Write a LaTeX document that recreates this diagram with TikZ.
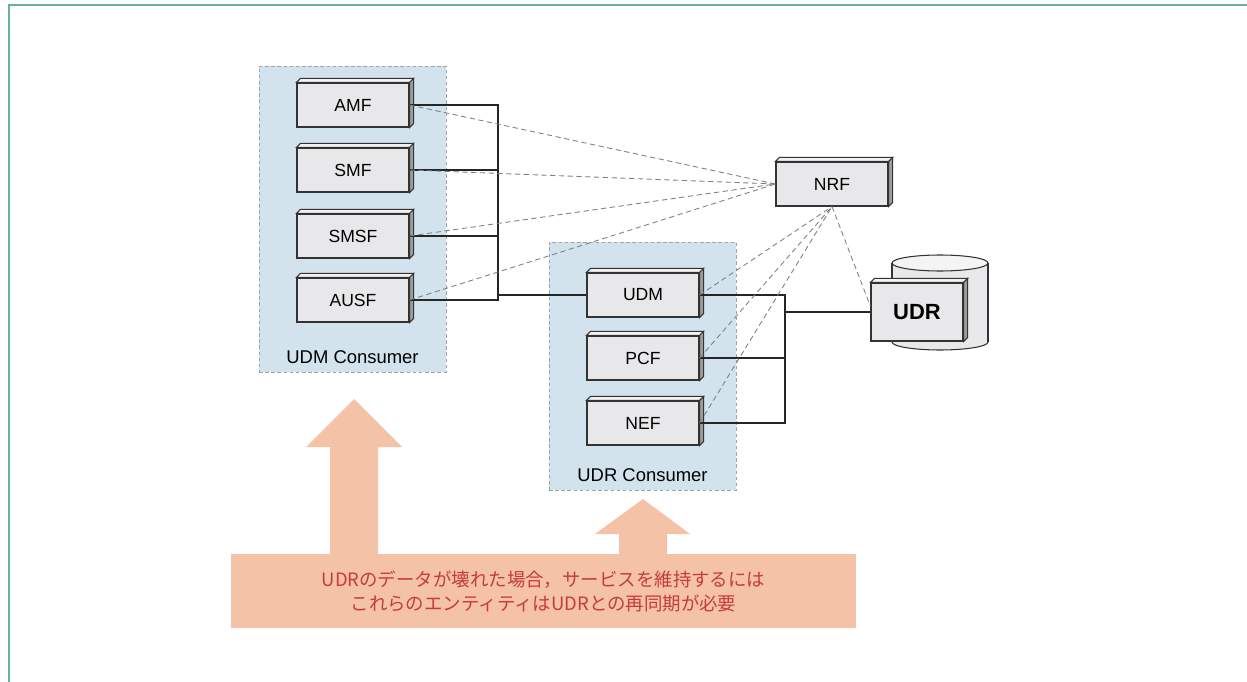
\documentclass[tikz,border=0pt]{standalone}
\usepackage{fontspec}
\setmainfont{Liberation Sans}
\newfontfamily\jpfont{Noto Sans CJK JP}
\usepackage{xcolor}
\usepackage{tikz}
\usetikzlibrary{calc}
\definecolor{framegreen}{HTML}{6AAE9F}
\definecolor{groupblue}{HTML}{D2E3EE}
\definecolor{groupedge}{HTML}{9AA4AC}
\definecolor{nfgray}{HTML}{E8E8EA}
\definecolor{facetop}{HTML}{F2F2F2}
\definecolor{faceside}{HTML}{9C9C9C}
\definecolor{cylbody}{HTML}{E9E9EB}
\definecolor{cyltop}{HTML}{F4F4F5}
\definecolor{alertorange}{HTML}{F4C2A7}
\definecolor{alertred}{HTML}{C63B3B}

\begin{document}
\begin{tikzpicture}[
    x=0.02cm, y=-0.02cm,
    nf/.style={rectangle, draw=black!80, fill=nfgray, line width=0.7pt,
               minimum width=2.24cm, minimum height=0.88cm,
               font=\fontsize{10}{12}\selectfont},
    group/.style={rectangle, draw=groupedge, fill=groupblue, line width=0.5pt,
                  dash pattern=on 2pt off 1.5pt, minimum width=3.74cm},
    grouplabel/.style={font=\fontsize{10.5}{12}\selectfont},
    facetop/.style={draw=black!80, fill=facetop, line width=0.6pt},
    faceside/.style={draw=black!80, fill=faceside, line width=0.6pt},
    link/.style={draw=black!85, line width=0.9pt},
    reg/.style={draw=gray, line width=0.5pt, dash pattern=on 3pt off 2pt},
    alert/.style={fill=alertorange}
]
\useasboundingbox (0,0) rectangle (1247,682);
\draw[framegreen, line width=1.1pt] (1247,5) -- (9,5) -- (9,682);

% Consumer groups
\node[group, minimum height=6.12cm] at (352.5,219) (udmgroup) {};
\node[grouplabel] at (352.5,357) (udmgrouplabel) {UDM Consumer};
\node[group, minimum height=4.96cm] at (642.5,366) (udrgroup) {};
\node[grouplabel] at (642.5,475) (udrgrouplabel) {UDR Consumer};

% UDR storage
\draw[draw=black!80, fill=cylbody, line width=0.6pt] (940,342) ellipse[x radius=48, y radius=8];
\fill[cylbody] (892,263) rectangle (988,342);
\draw[draw=black!80, line width=0.6pt] (892,263) -- (892,342) (988,263) -- (988,342);
\draw[draw=black!80, fill=cyltop, line width=0.6pt] (940,263) ellipse[x radius=48, y radius=8];

% Network functions
\node[nf] at (353,105) (amf) {AMF};
\node[nf] at (353,170) (smf) {SMF};
\node[nf] at (353,236) (smsf) {SMSF};
\node[nf] at (353,300) (ausf) {AUSF};
\node[nf] at (643,295) (udm) {UDM};
\node[nf] at (643,358) (pcf) {PCF};
\node[nf] at (643,423) (nef) {NEF};
\node[nf] at (832,184) (nrf) {NRF};
\node[nf, minimum width=1.84cm, minimum height=1.16cm,
      font=\fontsize{12.5}{14}\selectfont\bfseries] at (917,312) (udr) {UDR};

\foreach \n in {amf,smf,smsf,ausf,udm,pcf,nef,nrf,udr} {
  \draw[facetop] (\n.north west) -- ++(4,-4) -- ($(\n.north east)+(4,-4)$) -- (\n.north east) -- cycle;
  \draw[faceside] (\n.north east) -- ++(4,-4) -- ($(\n.south east)+(4,-4)$) -- (\n.south east) -- cycle;
}

% Buses
\coordinate (lbus) at (498,0);
\coordinate (rbus) at (785,0);
\draw[link] (amf.east) -- (amf.east -| lbus) -- (ausf.east -| lbus) -- (ausf.east);
\draw[link] (smf.east) -- (smf.east -| lbus);
\draw[link] (smsf.east) -- (smsf.east -| lbus);
\draw[link, line width=1.2pt] (udm.west -| lbus) -- (udm.west);
\draw[link] (udm.east) -- (udm.east -| rbus) -- (nef.east -| rbus) -- (nef.east);
\draw[link] (pcf.east) -- (pcf.east -| rbus);
\draw[link, line width=1.2pt] (udr.west -| rbus) -- (udr.west);

% Registration to NRF
\foreach \n in {amf,smf,smsf,ausf}
  \draw[reg] (\n.east) -- (nrf.west);
\foreach \n in {udm,pcf,nef}
  \draw[reg] (\n.east) -- (nrf.south);
\draw[reg] (nrf.south) -- ($(udr.north west)!0.4!(udr.south west)$);

% Resync note
\fill[alert] (354,399) -- (402,447) -- (378,447) -- (378,555) -- (330,555) -- (330,447) -- (306,447) -- cycle;
\fill[alert] (643,499) -- (690,534) -- (667,534) -- (667,555) -- (619,555) -- (619,534) -- (595,534) -- cycle;
\node[alert, minimum width=12.5cm, minimum height=1.5cm, align=center,
      text=alertred, font=\jpfont\fontsize{10.5}{13.6}\selectfont] at (543.5,591) (note)
  {UDRのデータが壊れた場合，サービスを維持するには\\これらのエンティティはUDRとの再同期が必要};

\end{tikzpicture}
\end{document}
